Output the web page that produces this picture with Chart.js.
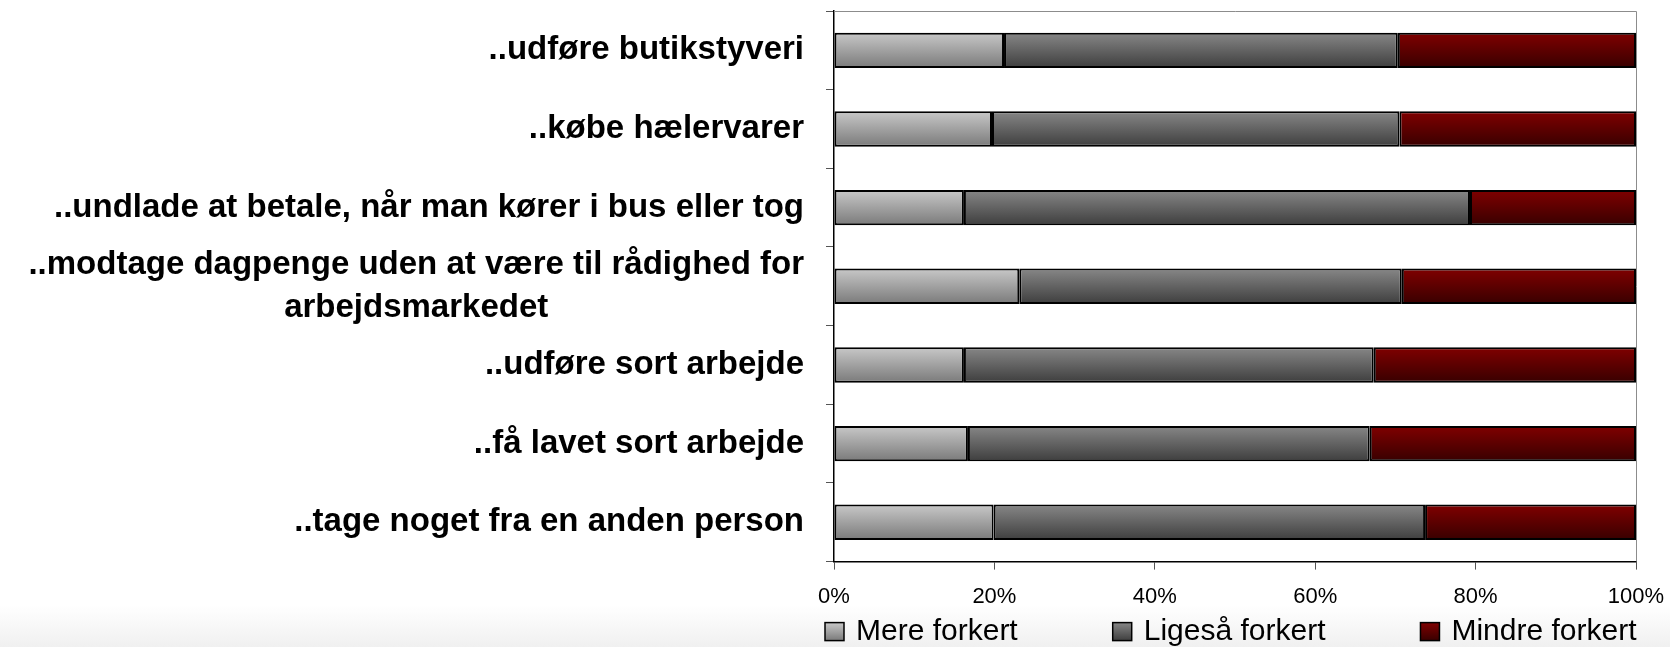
<!DOCTYPE html>
<html>
<head>
<meta charset="utf-8">
<script src="https://cdn.jsdelivr.net/npm/chart.js@4.4.1/dist/chart.umd.min.js"></script>
<style>
  html, body { margin: 0; padding: 0; }
  body { background: linear-gradient(to bottom, #ffffff 0px, #ffffff 605px, #f0f0f0 647px); }
  #wrap { width: 1670px; height: 647px; position: relative; }
</style>
</head>
<body>
<div id="wrap"><canvas id="chart"></canvas></div>
<script>
// categories (multi-line labels are arrays of lines)
const categories = [
    ['..udføre butikstyveri'],
    ['..købe hælervarer'],
    ['..undlade at betale, når man kører i bus eller tog'],
    ['..modtage dagpenge uden at være til rådighed for', 'arbejdsmarkedet'],
    ['..udføre sort arbejde'],
    ['..få lavet sort arbejde'],
    ['..tage noget fra en anden person']
];
const seriesNames = ['Mere forkert', 'Ligeså forkert', 'Mindre forkert'];
const mereForkert = [21.2, 19.7, 16.2, 23.1, 16.2, 16.7, 19.9];
const ligesaaForkert = [49.1, 50.8, 63.1, 47.7, 51.1, 50.1, 53.8];
const mindreForkert = [29.7, 29.5, 20.7, 29.2, 32.7, 33.2, 26.3];
const xTicks = [0, 20, 40, 60, 80, 100];

// gradient top -> bottom for each series
const palette = [
    ['#c8c8c8', '#7a7a7a'],
    ['#878787', '#3e3e3e'],
    ['#800000', '#380000']
];
const barFraction = 0.45;

const barGradient = (i) => (c) => {
    const chart = c.chart;
    const area = chart.chartArea;
    if (!area || c.dataIndex === undefined) return palette[i][0];
    const yc = chart.scales.y.getPixelForValue(c.dataIndex);
    const half = (area.bottom - area.top) / categories.length * barFraction / 2;
    const g = chart.ctx.createLinearGradient(0, yc - half, 0, yc + half);
    g.addColorStop(0, palette[i][0]);
    g.addColorStop(1, palette[i][1]);
    return g;
};

const framePlugin = {
    id: 'frame',
    beforeDatasetsDraw(chart) {
        const { ctx, chartArea: a } = chart;
        ctx.save();
        ctx.strokeStyle = '#8c8c8c';
        ctx.lineWidth = 1;
        ctx.beginPath();
        ctx.moveTo(a.left, a.top + 0.5);
        ctx.lineTo(a.right + 0.5, a.top + 0.5);
        ctx.lineTo(a.right + 0.5, a.bottom);
        ctx.stroke();
        ctx.restore();
    }
};

const categoryLabels = {
    id: 'categoryLabels',
    afterDraw(chart) {
        const { ctx, scales: { y } } = chart;
        const right = chart.chartArea.left - 30;
        const lineH = 43;
        ctx.save();
        ctx.font = 'bold 33px "Liberation Sans", Arial, sans-serif';
        ctx.fillStyle = '#000';
        ctx.textBaseline = 'middle';
        ctx.textAlign = 'center';
        categories.forEach((lines, i) => {
            const yc = y.getPixelForValue(i);
            const w = Math.max(...lines.map(l => ctx.measureText(l).width));
            const cx = right - w / 2;
            lines.forEach((line, j) => {
                ctx.fillText(line, cx, yc + (j - (lines.length - 1) / 2) * lineH);
            });
        });
        ctx.restore();
    }
};

const bottomLegend = {
    id: 'bottomLegend',
    afterDraw(chart) {
        const { ctx, chartArea: a } = chart;
        const yc = a.bottom + 70;
        let x = a.left - 9;
        ctx.save();
        ctx.font = '30px "Liberation Sans", Arial, sans-serif';
        ctx.textBaseline = 'middle';
        ctx.textAlign = 'left';
        chart.data.datasets.forEach((ds, i) => {
            const g = ctx.createLinearGradient(0, yc - 9, 0, yc + 9);
            g.addColorStop(0, palette[i][0]);
            g.addColorStop(1, palette[i][1]);
            ctx.fillStyle = g;
            ctx.fillRect(x, yc - 9, 19, 18);
            ctx.strokeStyle = '#000';
            ctx.lineWidth = 1.5;
            ctx.strokeRect(x, yc - 9, 19, 18);
            ctx.fillStyle = '#000';
            ctx.fillText(ds.label, x + 31, yc);
            x += 31 + ctx.measureText(ds.label).width + 95;
        });
        ctx.restore();
    }
};

const seriesData = [mereForkert, ligesaaForkert, mindreForkert];

new Chart(document.getElementById('chart'), {
    type: 'bar',
    data: {
        labels: categories,
        datasets: seriesNames.map((name, i) => ({
            label: name,
            data: seriesData[i],
            backgroundColor: barGradient(i),
            borderColor: '#000',
            borderWidth: 2,
            borderSkipped: false,
            categoryPercentage: barFraction,
            barPercentage: 1
        }))
    },
    options: {
        indexAxis: 'y',
        responsive: true,
        maintainAspectRatio: false,
        animation: false,
        layout: {
            padding: { left: 826, right: 34, top: 11, bottom: 23 }
        },
        plugins: {
            legend: { display: false },
            tooltip: { enabled: false }
        },
        scales: {
            x: {
                stacked: true,
                min: 0,
                max: 100,
                afterBuildTicks: (scale) => {
                    scale.ticks = xTicks.map(v => ({ value: v }));
                },
                afterFit: (scale) => {
                    // let the "100%" label hang into the right padding
                    scale.paddingRight = 0;
                    scale.paddingLeft = 0;
                },
                ticks: {
                    callback: (v) => v + '%',
                    color: '#000',
                    padding: 14,
                    maxRotation: 0,
                    font: { family: '"Liberation Sans", Arial, sans-serif', size: 22 }
                },
                grid: { drawOnChartArea: false, tickLength: 8, color: '#555' },
                border: { color: '#000', width: 1.5 }
            },
            y: {
                stacked: true,
                ticks: { display: false },
                grid: { drawOnChartArea: false, tickLength: 8, color: '#555', offset: true },
                border: { color: '#000', width: 1.5 }
            }
        }
    },
    plugins: [framePlugin, categoryLabels, bottomLegend]
});
</script>
</body>
</html>
